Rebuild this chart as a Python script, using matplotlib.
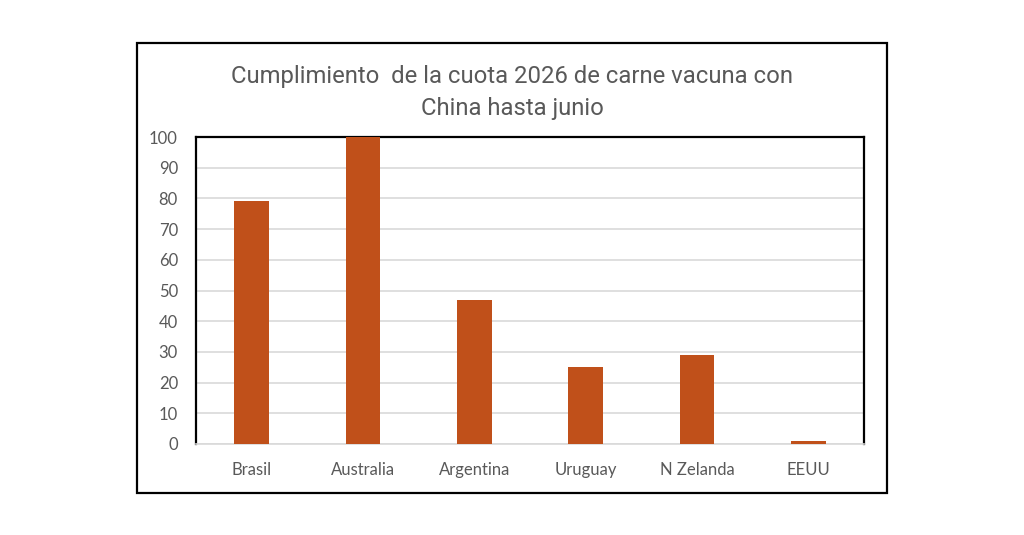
import matplotlib
matplotlib.use("Agg")
import matplotlib.pyplot as plt
from matplotlib.patches import Rectangle
import numpy as np

# data
countries = ["Brasil", "Australia", "Argentina", "Uruguay", "N Zelanda", "EEUU"]
cumplimiento = [79, 100, 47, 25, 29, 1]
yticks = [0, 10, 20, 30, 40, 50, 60, 70, 80, 90, 100]

bar_color = "#C0501A"
text_gray = "#595959"
grid_gray = "#D9D9D9"

fig = plt.figure(figsize=(10.24, 5.35), dpi=100)
fig.patch.set_facecolor("white")

# outer chart border
W, H = 1024, 535
fig.patches.append(Rectangle((137 / W, 1 - 493 / H), (887 - 137) / W, (493 - 43) / H,
                             transform=fig.transFigure, fill=False,
                             edgecolor="black", linewidth=1.6))

ax = fig.add_axes([196 / W, 1 - 444 / H, (864 - 196) / W, (444 - 137) / H])
x = np.arange(len(countries))
ax.bar(x, cumplimiento, width=0.31, color=bar_color, zorder=3)

ax.set_xlim(-0.5, len(countries) - 0.5)
ax.set_ylim(0, 100)
ax.set_yticks(yticks)
ax.set_xticks(x)
ax.set_xticklabels(countries)
ax.yaxis.grid(True, color=grid_gray, linewidth=1.2, zorder=0)
ax.set_axisbelow(True)

for side in ["top", "left", "right"]:
    ax.spines[side].set_color("black")
    ax.spines[side].set_linewidth(1.6)
ax.spines["bottom"].set_color(grid_gray)
ax.spines["bottom"].set_linewidth(1.2)

ax.tick_params(axis="both", length=0, labelsize=12, labelcolor=text_gray)
ax.tick_params(axis="y", pad=13)
ax.tick_params(axis="x", pad=13)
for lbl in ax.get_xticklabels() + ax.get_yticklabels():
    lbl.set_family(["Lato", "DejaVu Sans"])

fig.text(0.5, 1 - 93 / H, "Cumplimiento  de la cuota 2026 de carne vacuna con\nChina hasta junio",
         ha="center", va="center", fontsize=17.2, color=text_gray,
         family=["Roboto", "DejaVu Sans"], linespacing=1.5)

fig.savefig("out.png", dpi=100, facecolor="white")
